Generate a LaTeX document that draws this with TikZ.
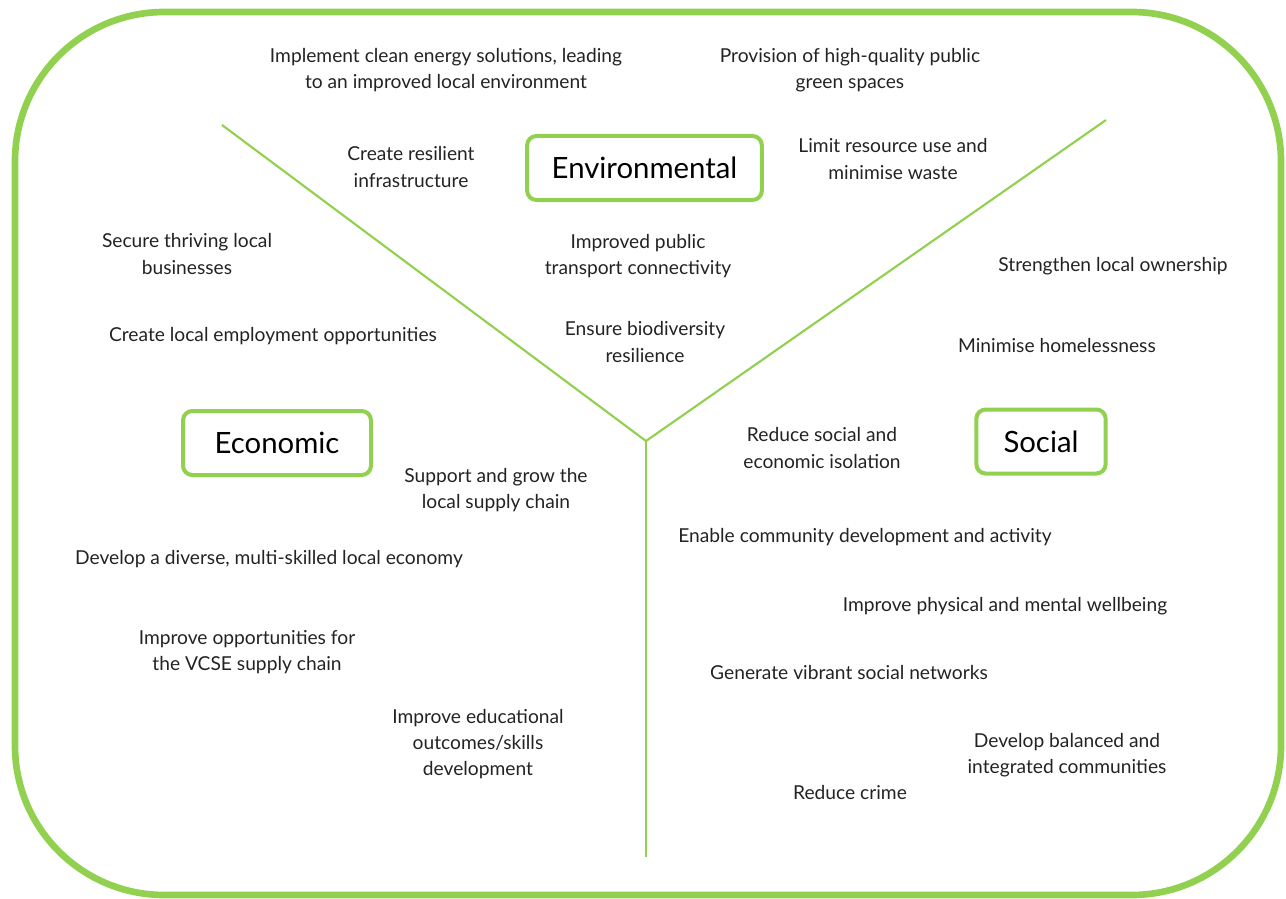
\documentclass[tikz,border=0pt]{standalone}
\usepackage{fontspec}
\setmainfont{Lato}
\definecolor{leafgreen}{RGB}{146,208,80}
\definecolor{inktext}{RGB}{35,35,35}
\tikzset{
  aim/.style={align=center,font=\fontsize{14.4}{19.8}\selectfont,text=inktext,inner sep=0pt},
  pillar/.style={draw=leafgreen,line width=3pt,rounded corners=7pt,font=\fontsize{22}{26}\selectfont,text=black,inner xsep=0pt,inner ysep=0pt},
  branch/.style={draw=leafgreen,line width=1.6pt}
}
\begin{document}
\begin{tikzpicture}[x=0.75pt,y=-0.75pt]
                    \useasboundingbox (0,0) rectangle (1286,899);
                    % outer frame
                    \draw[leafgreen,line width=5pt,rounded corners=112pt] (15,12) rectangle (1281,895);

                    % the Y
                    \coordinate (hub) at (646,441);
                    \coordinate (envL) at (222,125);
                    \coordinate (envR) at (1106,120);
                    \coordinate (foot) at (646,857);
                    \draw[branch] (envL) -- (hub) -- (envR);
                    \draw[branch] (hub) -- (foot);

                    % pillars
                    \node[pillar,minimum width=176pt,minimum height=48pt] (environmental) at (644.5,168) {Environmental};
                    \node[pillar,minimum width=141pt,minimum height=48pt] (economic) at (277,443) {Economic};
                    \node[pillar,minimum width=97pt,minimum height=48pt] (social) at (1041,441.5) {Social};

                    % environmental aims
                    \node[aim] (cleanenergy) at (446,70) {Implement clean energy solutions, leading\\to an improved local environment};
                    \node[aim] (greenspace) at (850,70) {Provision of high-quality public\\green spaces};
                    \node[aim] (resilient) at (411,167) {Create resilient\\infrastructure};
                    \node[aim] (resource) at (893,159) {Limit resource use and\\minimise waste};
                    \node[aim] (transport) at (638,256) {Improved public\\transport connectivity};
                    \node[aim] (biodiversity) at (645,342) {Ensure biodiversity\\resilience};

                    % economic aims
                    \node[aim] (business) at (187,254) {Secure thriving local\\businesses};
                    \node[aim] (employment) at (273,336) {Create local employment opportunities};
                    \node[aim] (supply) at (496,490) {Support and grow the\\local supply chain};
                    \node[aim] (diverse) at (269,559) {Develop a diverse, multi-skilled local economy};
                    \node[aim] (vcse) at (247,652) {Improve opportunities for\\the VCSE supply chain};
                    \node[aim] (education) at (478,744) {Improve educational\\outcomes/skills\\development};

                    % social aims
                    \node[aim] (ownership) at (1113,266) {Strengthen local ownership};
                    \node[aim] (homeless) at (1057,346) {Minimise homelessness};
                    \node[aim] (isolation) at (822,448) {Reduce social and\\economic isolation};
                    \node[aim] (community) at (865,537) {Enable community development and activity};
                    \node[aim] (wellbeing) at (1005,606) {Improve physical and mental wellbeing};
                    \node[aim] (networks) at (849,673) {Generate vibrant social networks};
                    \node[aim] (balanced) at (1067,755) {Develop balanced and\\integrated communities};
                    \node[aim] (crime) at (850,793) {Reduce crime};

                \end{tikzpicture}
\end{document}
